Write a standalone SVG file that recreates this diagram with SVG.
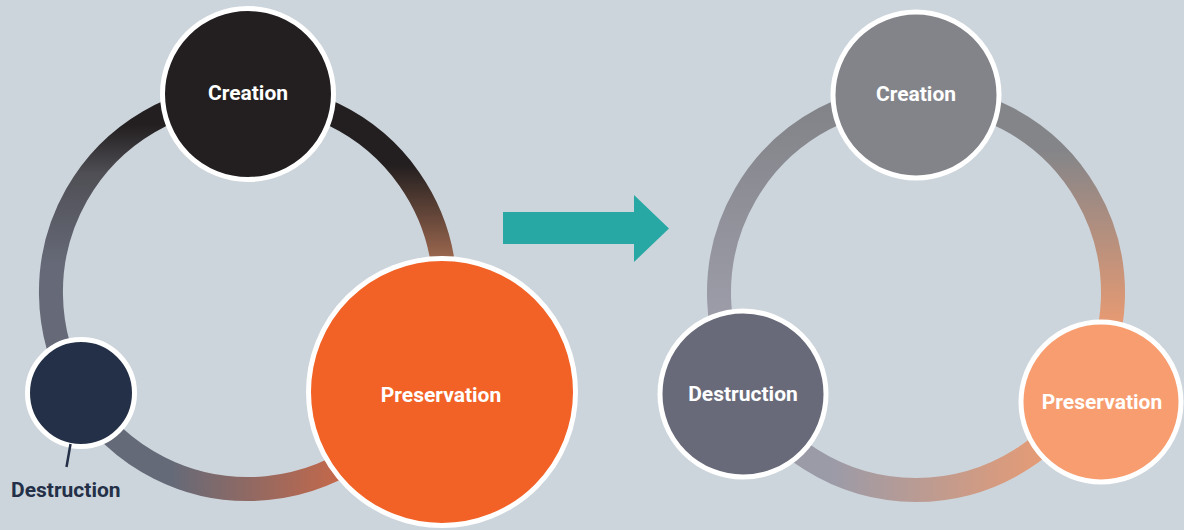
<svg xmlns="http://www.w3.org/2000/svg" width="1184" height="530" viewBox="0 0 1184 530">
  <defs>
    <linearGradient id="gL1" gradientUnits="userSpaceOnUse" x1="0" y1="165" x2="0" y2="262">
      <stop offset="0" stop-color="#231f20"/>
      <stop offset="1" stop-color="#a06a50"/>
    </linearGradient>
    <linearGradient id="gL2" gradientUnits="userSpaceOnUse" x1="172" y1="0" x2="340" y2="0">
      <stop offset="0" stop-color="#656a78"/>
      <stop offset="1" stop-color="#c4684a"/>
    </linearGradient>
    <linearGradient id="gL3" gradientUnits="userSpaceOnUse" x1="0" y1="125" x2="0" y2="265">
      <stop offset="0" stop-color="#231f20"/>
      <stop offset="0.35" stop-color="#4f4f55"/>
      <stop offset="1" stop-color="#666a78"/>
    </linearGradient>
    <linearGradient id="gR1" gradientUnits="userSpaceOnUse" x1="0" y1="150" x2="0" y2="330">
      <stop offset="0" stop-color="#848589"/>
      <stop offset="1" stop-color="#ea9b72"/>
    </linearGradient>
    <linearGradient id="gR2" gradientUnits="userSpaceOnUse" x1="830" y1="0" x2="1040" y2="0">
      <stop offset="0" stop-color="#9b9ba8"/>
      <stop offset="1" stop-color="#e49b76"/>
    </linearGradient>
    <linearGradient id="gR3" gradientUnits="userSpaceOnUse" x1="0" y1="110" x2="0" y2="310">
      <stop offset="0" stop-color="#838489"/>
      <stop offset="1" stop-color="#9c9ca8"/>
    </linearGradient>
    <style>
      .ring { fill: none; stroke-width: 24; }
      .node { stroke: #ffffff; stroke-width: 5; }
      .lbl { font-family: Roboto, "Liberation Sans", sans-serif; font-weight: 700; font-size: 21px; fill: #ffffff; text-anchor: middle; }
      .ext { font-family: Roboto, "Liberation Sans", sans-serif; font-weight: 700; font-size: 21px; fill: #233047; }
    </style>
  </defs>
  <rect width="1184" height="530" fill="#cdd5dc"/>
  <g id="connectors">
    <path class="ring" stroke="url(#gL1)" d="M248,95 A197,197 0 0 1 433.1,359.4"/>
    <path class="ring" stroke="url(#gL2)" d="M433.1,359.4 A197,197 0 0 1 79.1,393.5"/>
    <path class="ring" stroke="url(#gL3)" d="M79.1,393.5 A197,197 0 0 1 248,95"/>
    <path class="ring" stroke="url(#gR1)" d="M916,96 A197,197 0 0 1 1086.6,391.5"/>
    <path class="ring" stroke="url(#gR2)" d="M1086.6,391.5 A197,197 0 0 1 745.4,391.5"/>
    <path class="ring" stroke="url(#gR3)" d="M745.4,391.5 A197,197 0 0 1 916,96"/>
    <polygon id="transition-arrow" points="503,212 634,212 634,195 669,228.5 634,262 634,244 503,244" fill="#28a8a4"/>
  </g>
  <g id="left-creation">
    <circle class="node" cx="248" cy="94" r="85.5" fill="#231f20"/>
    <text class="lbl" x="248" y="99.5">Creation</text>
  </g>
  <g id="left-preservation">
    <circle class="node" cx="442" cy="392" r="133.5" fill="#f26125"/>
    <text class="lbl" x="441" y="401.5">Preservation</text>
  </g>
  <g id="left-destruction">
    <circle class="node" cx="81" cy="393" r="53.5" fill="#233047"/>
    <text class="ext" x="11" y="497">Destruction</text>
  </g>
  <g id="leader">
    <line x1="70.5" y1="444" x2="66.5" y2="467" stroke="#233047" stroke-width="2.5"/>
  </g>
  <g id="right-creation">
    <circle class="node" cx="916" cy="95" r="83" fill="#838489"/>
    <text class="lbl" x="916" y="100.5">Creation</text>
  </g>
  <g id="right-destruction">
    <circle class="node" cx="743" cy="394" r="83" fill="#686a79"/>
    <text class="lbl" x="743" y="400.5">Destruction</text>
  </g>
  <g id="right-preservation">
    <circle class="node" cx="1101" cy="402" r="80" fill="#f79d6f"/>
    <text class="lbl" x="1102" y="409">Preservation</text>
  </g>
</svg>
